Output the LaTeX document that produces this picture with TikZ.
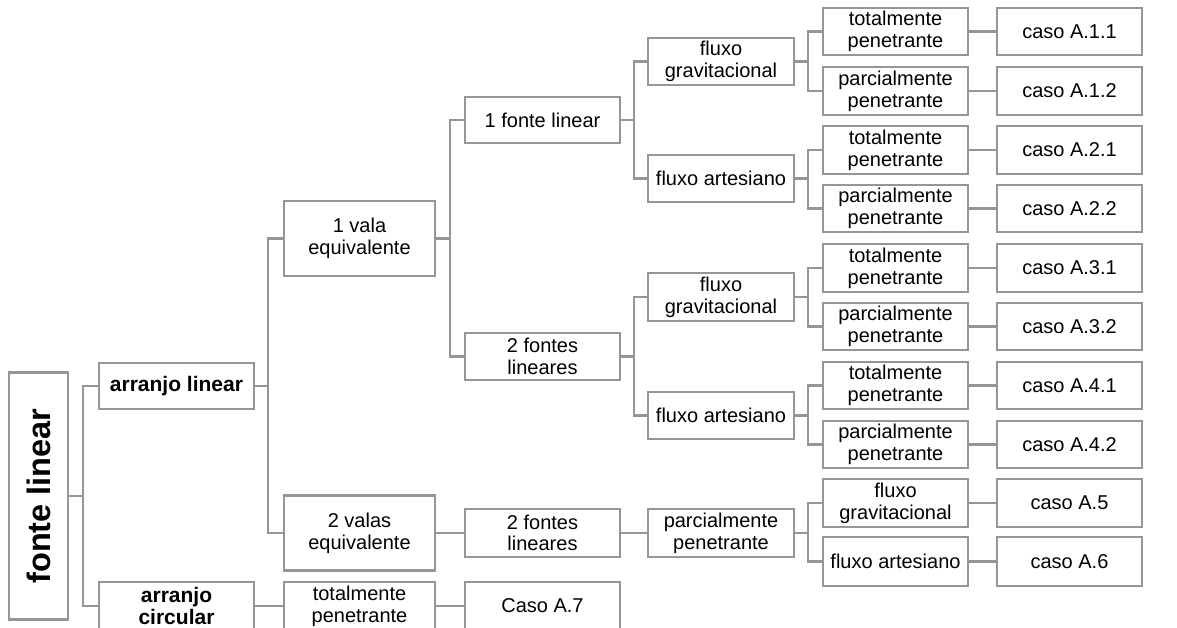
\documentclass[tikz,border=0pt]{standalone}
\usepackage{fontspec}
\setmainfont{Liberation Sans}
\definecolor{lc}{RGB}{150,150,150}
\begin{document}
\begin{tikzpicture}[x=1pt,y=-1pt,
  box/.style={draw=lc, line width=2.8pt, fill=white, align=center, inner sep=0pt,
    font=\fontsize{20}{21.7}\selectfont, minimum height=47pt},
  bbox/.style={box, font=\fontsize{21}{21.7}\selectfont\bfseries},
  wa/.style={minimum width=155pt},
  wb/.style={minimum width=151pt},
  wc/.style={minimum width=155pt},
  wd/.style={minimum width=146pt},
  we/.style={minimum width=145pt},
  tall/.style={minimum height=75pt},
  conn/.style={draw=lc, line width=2.8pt}]
\clip (0,0) rectangle (1177,628);
\fill[white] (0,0) rectangle (1177,628);
% trunk coordinates
\coordinate (t1) at (83,0);
\coordinate (t2) at (268,0);
\coordinate (t3) at (450,0);
\coordinate (t4) at (634,0);
\coordinate (t5) at (808,0);
% column 0
\node[box, rotate=90, minimum width=247pt, minimum height=59pt,
  font=\fontsize{32.5}{34}\selectfont\bfseries] (fl) at (38.5,496) {fonte linear};
% column 1
\node[bbox, wa, minimum height=46pt] (al) at (176.5,386) {arranjo linear};
\node[bbox, wa, minimum height=48pt] (ac) at (176.5,606) {arranjo\\circular};
% column 2
\node[box, wb, tall] (v1) at (359.5,238.5) {1 vala\\equivalente};
\node[box, wb, tall] (v2) at (359.5,533) {2 valas\\equivalente};
\node[box, wb, minimum height=48pt] (tpc) at (359.5,606) {totalmente\\penetrante};
% column 3
\node[box, wc, minimum height=46pt] (f1) at (542.5,120) {1 fonte linear};
\node[box, wc] (f2) at (542.5,356.5) {2 fontes\\lineares};
\node[box, wc, minimum height=48pt] (f3) at (542.5,533) {2 fontes\\lineares};
\node[box, wc, minimum height=48pt] (c7) at (542.5,606) {Caso A.7};
% column 4
\node[box, wd] (g1) at (721,61.5) {fluxo\\gravitacional};
\node[box, wd] (a1) at (721,178.5) {fluxo artesiano};
\node[box, wd, minimum height=48pt] (g2) at (721,297) {fluxo\\gravitacional};
\node[box, wd] (a2) at (721,415.5) {fluxo artesiano};
\node[box, wd, minimum height=48pt] (pp) at (721,533) {parcialmente\\penetrante};
% column 5
\node[box, we] (l1) at (895.5,31.5) {totalmente\\penetrante};
\node[box, we, minimum height=48pt] (l2) at (895.5,91) {parcialmente\\penetrante};
\node[box, we, minimum height=48pt] (l3) at (895.5,150) {totalmente\\penetrante};
\node[box, we] (l4) at (895.5,208.5) {parcialmente\\penetrante};
\node[box, we, minimum height=48pt] (l5) at (895.5,268) {totalmente\\penetrante};
\node[box, we] (l6) at (895.5,326.5) {parcialmente\\penetrante};
\node[box, we] (l7) at (895.5,385.5) {totalmente\\penetrante};
\node[box, we] (l8) at (895.5,444.5) {parcialmente\\penetrante};
\node[box, we, minimum height=48pt] (l9) at (895.5,503) {fluxo\\gravitacional};
\node[box, we, minimum height=49pt] (l10) at (895.5,561.5) {fluxo artesiano};
% column 6
\node[box, we] (k1) at (1069.5,31.5) {caso A.1.1};
\node[box, we, minimum height=48pt] (k2) at (1069.5,91) {caso A.1.2};
\node[box, we, minimum height=48pt] (k3) at (1069.5,150) {caso A.2.1};
\node[box, we] (k4) at (1069.5,208.5) {caso A.2.2};
\node[box, we, minimum height=48pt] (k5) at (1069.5,268) {caso A.3.1};
\node[box, we] (k6) at (1069.5,326.5) {caso A.3.2};
\node[box, we] (k7) at (1069.5,385.5) {caso A.4.1};
\node[box, we] (k8) at (1069.5,444.5) {caso A.4.2};
\node[box, we, minimum height=48pt] (k9) at (1069.5,503) {caso A.5};
\node[box, we, minimum height=49pt] (k10) at (1069.5,561.5) {caso A.6};
% elbow connectors
\foreach \c in {al, ac}
  \draw[conn] (fl.south) -- (fl.south -| t1) |- (\c.west);
\foreach \p/\c/\t in {al/v1/t2, al/v2/t2, v1/f1/t3, v1/f2/t3,
  f1/g1/t4, f1/a1/t4, f2/g2/t4, f2/a2/t4,
  g1/l1/t5, g1/l2/t5, a1/l3/t5, a1/l4/t5, g2/l5/t5, g2/l6/t5, a2/l7/t5, a2/l8/t5,
  pp/l9/t5, pp/l10/t5}
  \draw[conn] (\p.east) -- (\p.east -| \t) |- (\c.west);
% straight connectors
\foreach \p/\c in {l1/k1, l2/k2, l3/k3, l4/k4, l5/k5, l6/k6, l7/k7, l8/k8, l9/k9, l10/k10,
  v2/f3, f3/pp, ac/tpc, tpc/c7}
  \draw[conn] (\p.east) -- (\c.west);
\end{tikzpicture}
\end{document}
